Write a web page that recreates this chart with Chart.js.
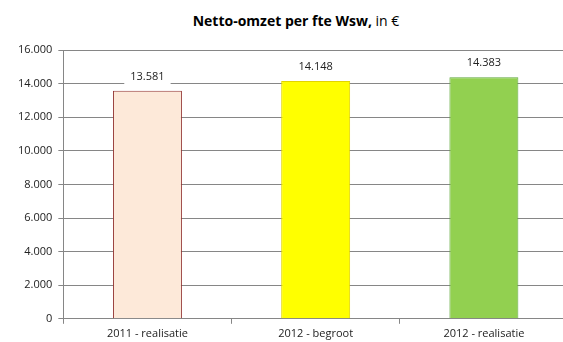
<!DOCTYPE html>
<html>
<head>
<meta charset="utf-8">
<script src="https://cdn.jsdelivr.net/npm/chart.js@4"></script>
<style>
  html, body { margin: 0; padding: 0; background: #fff; overflow: hidden; }
  #wrap { position: relative; width: 563px; height: 342px; overflow: hidden; }
  #title {
    position: absolute; left: 0; top: 11px; width: 592px; text-align: center;
    font-family: "Open Sans", sans-serif; font-size: 14px; color: #000;
  }
  #title b { font-weight: 700; }
  #box { position: absolute; left: 0; top: 0; width: 572px; height: 343px; }
</style>
</head>
<body>
<div id="wrap">
  <div id="title"><b>Netto-omzet per fte Wsw,</b> in €</div>
  <div id="box"><canvas id="myChart"></canvas></div>
</div>
<script>
	// categorieën en waarden
	var categories = ['2011 - realisatie', '2012 - begroot', '2012 - realisatie'];
	var values = [13581, 14148, 14383];
	var yTicks = [0, 2000, 4000, 6000, 8000, 10000, 12000, 14000, 16000];

	var fillColors = ['#FDE9D9', '#FFFF00', '#92D050'];
	var lineColors = ['#943634', '#E2D400', '#5FA83C'];

	// 1.234 notatie
	function nl(v) {
		return String(v).replace(/\B(?=(\d{3})+(?!\d))/g, '.');
	}

	// waarden boven de staven met witte achtergrond
	var valueLabels = {
		id: 'valueLabels',
		afterDatasetsDraw: function(chart) {
			var ctx = chart.ctx;
			var meta = chart.getDatasetMeta(0);
			ctx.save();
			ctx.font = '11px "Open Sans", sans-serif';
			ctx.textAlign = 'center';
			ctx.textBaseline = 'middle';
			meta.data.forEach(function(bar, i) {
				var txt = nl(values[i]);
				var w = ctx.measureText(txt).width + 12;
				var y = bar.y - 14;
				ctx.fillStyle = '#fff';
				ctx.fillRect(bar.x - w / 2, y - 8, w, 17);
				ctx.fillStyle = '#222';
				ctx.fillText(txt, bar.x, y);
			});
			ctx.restore();
		}
	};

	var data = {
		labels: categories,
		datasets: [{
			data: values,
			backgroundColor: fillColors,
			borderColor: lineColors,
			borderWidth: 1,
			categoryPercentage: 1,
			barPercentage: 0.41
		}]
	};

	var options = {
		responsive: true,
		maintainAspectRatio: false,
		animation: false,
		layout: { padding: { top: 50, right: 4, left: 12, bottom: 0 } },
		plugins: {
			legend: { display: false },
			tooltip: { enabled: false }
		},
		scales: {
			x: {
				offset: true,
				grid: { offset: true, drawOnChartArea: false, drawTicks: true, tickLength: 5, color: '#868686' },
				border: { color: '#868686' },
				ticks: { color: '#222', font: { family: 'Open Sans', size: 11 }, padding: 3 }
			},
			y: {
				min: 0,
				max: 16000,
				afterBuildTicks: function(axis) {
					axis.ticks = yTicks.map(function(v) { return { value: v }; });
				},
				grid: { color: '#868686', tickLength: 5 },
				border: { color: '#868686' },
				ticks: {
					color: '#222',
					font: { family: 'Open Sans', size: 11 },
					padding: 6,
					callback: function(v) { return nl(v); }
				}
			}
		}
	};

	var ctx = document.getElementById('myChart').getContext('2d');
	var myChart = new Chart(ctx, {
		type: 'bar',
		data: data,
		options: options,
		plugins: [valueLabels]
	});
</script>
</body>
</html>
